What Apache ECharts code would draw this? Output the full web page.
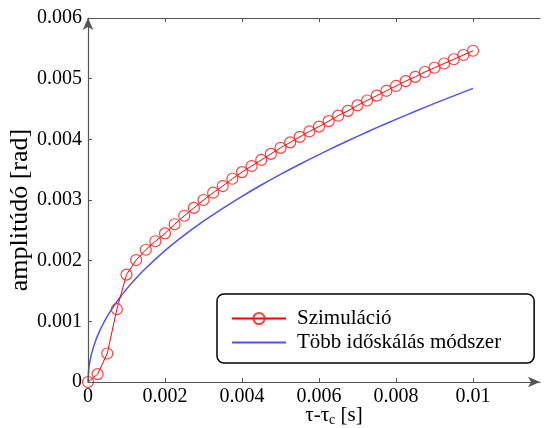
<!DOCTYPE html>
<html>
<head>
<meta charset="utf-8">
<script src="https://cdn.jsdelivr.net/npm/echarts@6/dist/echarts.min.js"></script>
<style>html,body{margin:0;padding:0;background:#fff}#c{width:545px;height:428px}</style>
</head>
<body>
<div id="c"></div>
<script>
// Data
const simX = [0,0.00025,0.0005,0.00075,0.001,0.00125,0.0015,0.00175,0.002,0.00225,0.0025,0.00275,0.003,0.00325,0.0035,0.00375,0.004,0.00425,0.0045,0.00475,0.005,0.00525,0.0055,0.00575,0.006,0.00625,0.0065,0.00675,0.007,0.00725,0.0075,0.00775,0.008,0.00825,0.0085,0.00875,0.009,0.00925,0.0095,0.00975,0.01];
const simY = [0,0.00013,0.00047,0.0012,0.00177,0.00201,0.00218,0.00232,0.00245,0.0026,0.00274,0.00287,0.003,0.00312,0.00323,0.00335,0.00346,0.00356,0.00366,0.00376,0.00386,0.00395,0.00404,0.00413,0.00421,0.0043,0.00439,0.00447,0.00456,0.00464,0.00472,0.0048,0.00488,0.00496,0.00503,0.00511,0.00518,0.00525,0.00532,0.00539,0.00546];
const msX = [0,0.00002,0.00005,0.0001,0.0002,0.0003,0.0004,0.0005,0.0006,0.0008,0.001,0.0012,0.0015,0.002,0.0025,0.003,0.0035,0.004,0.0045,0.005,0.0055,0.006,0.0065,0.007,0.0075,0.008,0.0085,0.009,0.0095,0.01];
const msY = [0,0.000216,0.000342,0.000484,0.000684,0.000838,0.000968,0.001082,0.001186,0.001369,0.001531,0.001677,0.001875,0.002165,0.00242,0.002651,0.002863,0.003061,0.003247,0.003422,0.003589,0.003749,0.003902,0.004049,0.004192,0.004329,0.004462,0.004592,0.004717,0.00484];
const xTicks = [0,0.002,0.004,0.006,0.008,0.01];
const xTickLabels = ['0','0.002','0.004','0.006','0.008','0.01'];
const yTickLabels = ['0','0.001','0.002','0.003','0.004','0.005','0.006'];
const seriesNames = ['Szimuláció','Több időskálás módszer'];

const FONT = "'Liberation Serif', 'Times New Roman', serif";
const chart = echarts.init(document.getElementById('c'), null, {renderer:'canvas'});
const axisCol = '#555';
chart.setOption({
  animation:false,
  backgroundColor:'#fff',
  textStyle:{fontFamily:FONT},
  grid:{left:88, right:5, top:18, bottom:46, containLabel:false, outerBoundsMode:'none'},
  xAxis:[{
    type:'value', min:0, max:0.01174, position:'bottom', z:5,
    name:'{a|τ-τ}{b|c}{a| [s]}', nameLocation:'middle', nameGap:21, nameMoveOverlap:false,
    nameTextStyle:{padding:[0,0,0,40], rich:{a:{fontFamily:FONT,fontSize:21,color:'#000',lineHeight:24},b:{fontFamily:FONT,fontSize:14,color:'#000',lineHeight:24,verticalAlign:'bottom',padding:[6,0,0,0]}}},
    axisLine:{show:true, lineStyle:{color:axisCol,width:1.2}, symbol:['none','arrow'], symbolSize:[8,12]},
    axisTick:{show:true, inside:true, length:4, customValues:xTicks, lineStyle:{color:axisCol}},
    axisLabel:{show:true, customValues:xTicks, margin:5, fontFamily:FONT, fontSize:20, color:'#000',
      formatter:(v)=>{const i=xTicks.findIndex(t=>Math.abs(t-v)<1e-9);return i>=0?xTickLabels[i]:'';}},
    splitLine:{show:false}
  },{
    type:'value', min:0, max:0.01174, position:'top', z:4,
    axisLine:{show:true, lineStyle:{color:axisCol,width:1.2}},
    axisTick:{show:true, inside:true, length:4, customValues:xTicks, lineStyle:{color:axisCol}},
    axisLabel:{show:false}, splitLine:{show:false}
  }],
  yAxis:{
    type:'value', min:0, max:0.006, interval:0.001, z:6,
    name:'amplitúdó [rad]', nameLocation:'middle', nameGap:55, nameMoveOverlap:false,
    nameTextStyle:{fontFamily:FONT, fontSize:26, color:'#000', padding:[0,20,0,0]},
    axisLine:{show:true, lineStyle:{color:axisCol,width:1.2}, symbol:['none','arrow'], symbolSize:[8,12]},
    axisTick:{show:true, inside:true, length:4, lineStyle:{color:axisCol}},
    axisLabel:{margin:6, fontFamily:FONT, fontSize:20, color:'#000',
      formatter:(v)=>{const i=Math.round(v/0.001);return yTickLabels[i]!==undefined?yTickLabels[i]:'';}},
    splitLine:{show:false}
  },
  legend:{
    orient:'vertical', left:217, top:294,
    padding:[14,33,10,14], itemGap:3, itemWidth:54, itemHeight:14,
    borderColor:'#000', borderWidth:1.5, borderRadius:7, backgroundColor:'#fff',
    textStyle:{fontFamily:FONT, fontSize:21, color:'#000', lineHeight:20, padding:[0,0,0,6]},
    data:[
      {name:seriesNames[0]},
      {name:seriesNames[1], itemStyle:{opacity:0}}
    ]
  },
  series:[{
    name:seriesNames[0], type:'line', xAxisIndex:0,
    data:simX.map((x,i)=>[x,simY[i]]),
    symbol:'circle', symbolSize:11,
    lineStyle:{color:'#ff0000', width:1},
    itemStyle:{color:'rgba(255,255,255,0)', borderColor:'rgba(255,30,30,0.85)', borderWidth:1.2},
    z:3
  },{
    name:seriesNames[1], type:'line', xAxisIndex:0,
    data:msX.map((x,i)=>[x,msY[i]]),
    symbol:'none', smooth:0.3,
    lineStyle:{color:'#5050ff', width:1.5},
    itemStyle:{color:'#5050ff'},
    z:2
  }]
});
</script>
</body>
</html>
